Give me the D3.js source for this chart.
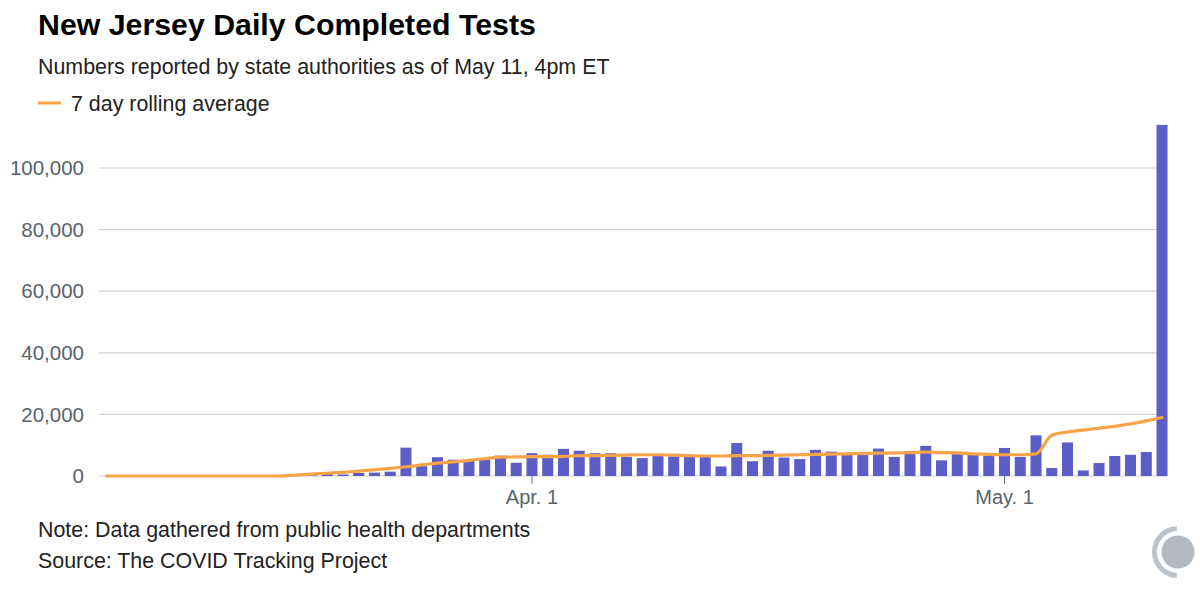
<!DOCTYPE html>
<html>
<head>
<meta charset="utf-8">
<script src="https://cdn.jsdelivr.net/npm/d3@7"></script>
<style>
  html, body { margin: 0; padding: 0; background: #fff; }
  svg { display: block; font-family: "Liberation Sans", Arial, Helvetica, sans-serif; }
</style>
</head>
<body>
<svg id="chart" width="1200" height="600"></svg>
<script>
// ---- data ----
const startDate = new Date(2020, 2, 5);   // Mar 5
const endDate = new Date(2020, 4, 11);    // May 11
const dates = d3.timeDay.range(startDate, d3.timeDay.offset(endDate, 1));

const dailyTests = [
  0, 0, 0, 0, 0, 0, 0, 0, 0, 0, 0, 0,                       // Mar 5-16
  400, 500, 800, 500, 1000, 1100, 1400, 9200, 3200, 6100,   // Mar 17-26
  5300, 4900, 5200, 6600, 4300,                             // Mar 27-31
  7400, 6900, 8800, 8200, 7400, 7400, 6200, 5800, 6500, 6400, // Apr 1-10
  6200, 6200, 3100, 10700, 4800, 8200, 6000, 5500, 8500, 7900, // Apr 11-20
  6800, 6800, 8900, 6200, 8100, 9800, 5100, 7100, 6800, 6500,  // Apr 21-30
  9100, 6200, 13200, 2600, 10900, 1800, 4200, 6500, 6900, 7800, 114000 // May 1-11
];

const rollingAvg = [
  0, 0, 0, 0, 0, 0, 0, 0, 0, 0, 0, 0,                       // Mar 5-16
  300, 600, 900, 1200, 1600, 2000, 2500, 3000, 3600, 4200,  // Mar 17-26
  4600, 5100, 5600, 6100, 6200,                             // Mar 27-31
  6300, 6300, 6400, 6600, 6600, 6700, 6800, 6900, 6900, 6800, // Apr 1-10
  6600, 6500, 6500, 6600, 6600, 6700, 6800, 6900, 7000, 7100, // Apr 11-20
  7200, 7300, 7400, 7500, 7600, 7800, 7600, 7500, 7200, 7000, // Apr 21-30
  6900, 6900, 7200, 13200, 14300, 14900, 15500, 16100, 16900, 17900, 19000 // May 1-11
];

const yTicks = [0, 20000, 40000, 60000, 80000, 100000];
const xTickDates = [new Date(2020, 3, 1), new Date(2020, 4, 1)];
const xTickLabels = ["Apr. 1", "May. 1"];

const titleText = "New Jersey Daily Completed Tests";
const subtitleText = "Numbers reported by state authorities as of May 11, 4pm ET";
const legendText = "7 day rolling average";
const noteText = "Note: Data gathered from public health departments";
const sourceText = "Source: The COVID Tracking Project";

// ---- drawing ----
const svg = d3.select("#chart");
const barColor = "#5b5ec6";
const lineColor = "#f7a348";
const gridColor = "#c9d0d6";
const axisText = "#58636b";

const x = d3.scaleBand()
  .domain(dates.map(d => +d))
  .range([98.8, 1169.9])
  .paddingInner(0.3)
  .paddingOuter(0.15);

const y = d3.scaleLinear().domain([0, 100000]).range([476, 168]);
const cx = d => x(+d) + x.bandwidth() / 2;

// gridlines
svg.append("g").selectAll("line").data(yTicks).join("line")
  .attr("x1", 99).attr("x2", 1166)
  .attr("y1", d => y(d)).attr("y2", d => y(d))
  .attr("stroke", gridColor).attr("stroke-width", 1.2);

// y labels
svg.append("g").selectAll("text").data(yTicks).join("text")
  .attr("x", 84).attr("y", d => y(d)).attr("dy", "0.35em")
  .attr("text-anchor", "end")
  .attr("font-size", 20.5).attr("fill", axisText)
  .text(d => d3.format(",")(d));

// bars
svg.append("g").selectAll("rect").data(dates).join("rect")
  .attr("x", d => x(+d))
  .attr("width", x.bandwidth())
  .attr("y", (d, i) => y(dailyTests[i]))
  .attr("height", (d, i) => y(0) - y(dailyTests[i]))
  .attr("fill", barColor);

// rolling average line
const line = d3.line()
  .x(d => cx(d[0]))
  .y(d => y(d[1]))
  .curve(d3.curveMonotoneX);
svg.append("path")
  .datum(dates.map((d, i) => [d, rollingAvg[i]]))
  .attr("d", line)
  .attr("fill", "none")
  .attr("stroke", lineColor)
  .attr("stroke-width", 3.2)
  .attr("stroke-linejoin", "round")
  .attr("stroke-linecap", "round");

// x ticks
const xg = svg.append("g");
xg.selectAll("line").data(xTickDates).join("line")
  .attr("x1", d => cx(d)).attr("x2", d => cx(d))
  .attr("y1", 476).attr("y2", 484)
  .attr("stroke", "#6b747b").attr("stroke-width", 1);
xg.selectAll("text").data(xTickDates).join("text")
  .attr("x", d => cx(d)).attr("y", 504)
  .attr("text-anchor", "middle")
  .attr("font-size", 20).attr("fill", axisText)
  .text((d, i) => xTickLabels[i]);

// title & subtitle
svg.append("text").attr("x", 38).attr("y", 35)
  .attr("font-size", 30.3).attr("font-weight", "bold").attr("fill", "#000")
  .text(titleText);
svg.append("text").attr("x", 38).attr("y", 74)
  .attr("font-size", 21.4).attr("fill", "#222")
  .text(subtitleText);

// legend
svg.append("line").attr("x1", 38).attr("x2", 61).attr("y1", 103).attr("y2", 103)
  .attr("stroke", lineColor).attr("stroke-width", 3);
svg.append("text").attr("x", 71).attr("y", 111)
  .attr("font-size", 21.4).attr("fill", "#222")
  .text(legendText);

// footer
svg.append("text").attr("x", 38).attr("y", 537)
  .attr("font-size", 21.4).attr("fill", "#222").text(noteText);
svg.append("text").attr("x", 38).attr("y", 568)
  .attr("font-size", 21.4).attr("fill", "#222").text(sourceText);

// logo
const logo = svg.append("g").attr("transform", "translate(1178,552)");
logo.append("path")
  .attr("d", d3.arc().innerRadius(21).outerRadius(26).startAngle(Math.PI + 0.05).endAngle(2 * Math.PI - 0.05)())
  .attr("fill", "#bcc3c8");
logo.append("circle").attr("r", 16.5).attr("fill", "#b3babf");
</script>
</body>
</html>
